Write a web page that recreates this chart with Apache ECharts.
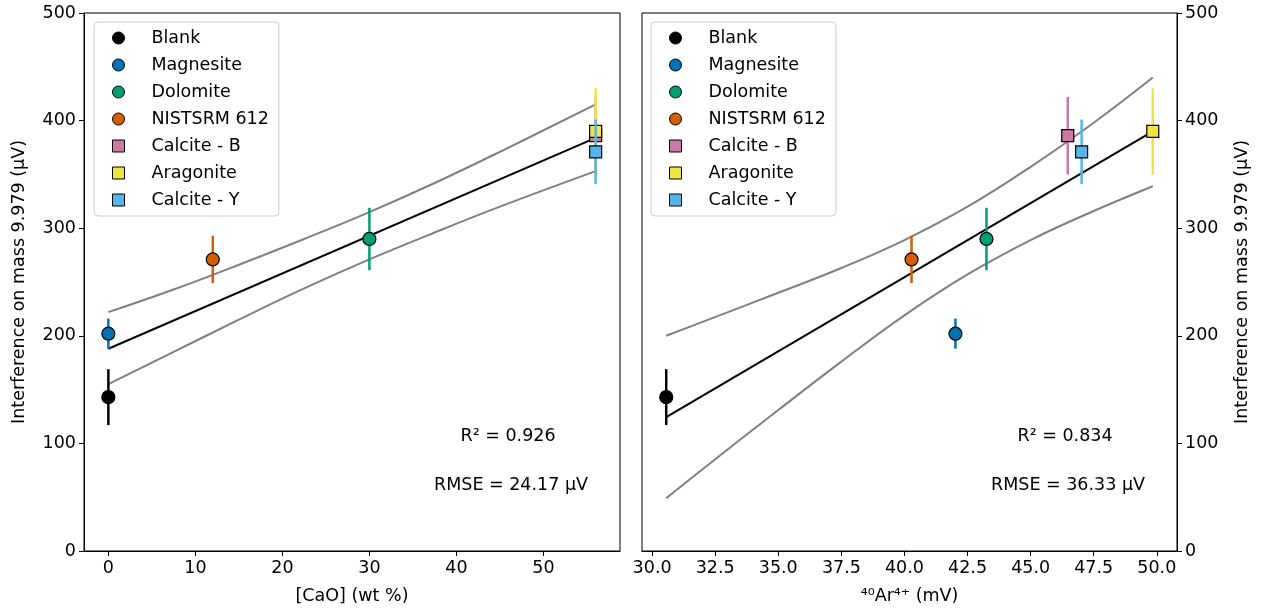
<!DOCTYPE html>
<html>
<head>
<meta charset="utf-8">
<script src="https://cdn.jsdelivr.net/npm/echarts@6/dist/echarts.min.js"></script>
<style>
html,body{margin:0;padding:0;background:#fff;}
#chart{width:1261px;height:614px;}
</style>
</head>
<body>
<div id="chart"></div>
<script>
// ---- data ----
const categories = ['Blank', 'Magnesite', 'Dolomite', 'NISTSRM 612', 'Calcite - B', 'Aragonite', 'Calcite - Y'];
const colors = ['#000000', '#0072B2', '#009E73', '#D55E00', '#CC79A7', '#F0E442', '#56B4E9'];
const symbols = ['circle', 'circle', 'circle', 'circle', 'rect', 'rect', 'rect'];
const caoValues = [0, 0, 30, 12, 56, 56, 56];
const arValues = [30.56, 42.02, 43.25, 40.28, 46.47, 49.84, 47.02];
const interference = [143, 202, 290, 271, 386, 390, 371];
const interferenceErr = [26, 14, 29, 22, 36, 40, 30];

const leftFitX = [0, 56];
const leftFitY = [188, 384];
const leftBandX = [0, 7.5, 15, 22.5, 30, 37.5, 45, 56];
const leftBandUpper = [222, 243, 266, 290, 315, 342, 371, 415];
const leftBandLower = [155, 185, 215, 244, 271, 296, 320, 353];

const rightFitX = [30.56, 49.84];
const rightFitY = [124.5, 390];
const rightBandX = [30.56, 32, 35, 37.5, 40, 42.5, 45, 47.5, 49.84];
const rightBandUpper = [200, 213, 240, 263, 289, 320, 357, 398, 440];
const rightBandLower = [49, 76, 131, 176, 219, 257, 289, 316, 339];

const caoTicks = [0, 10, 20, 30, 40, 50];
const arTicks = [30, 32.5, 35, 37.5, 40, 42.5, 45, 47.5, 50];

const r2Texts = ['R² = 0.926', 'R² = 0.834'];
const rmseTexts = ['RMSE = 24.17 µV', 'RMSE = 36.33 µV'];
const xNames = ['[CaO] (wt %)', '⁴⁰Ar⁴⁺ (mV)'];
const yName = 'Interference on mass 9.979 (µV)';

// ---- chart ----
const FONT = 'DejaVu Sans';
const FS = 17.5;
const SQUARE = 'path://M0,0L10,0L10,10L0,10Z';
const chart = echarts.init(document.getElementById('chart'), null, {renderer: 'canvas'});

function makeLegend(left) {
  return {
    left: left, top: 22, orient: 'vertical',
    padding: [7, 10, 7, 18],
    itemGap: 9, itemWidth: 12, itemHeight: 12,
    borderColor: '#cccccc', borderWidth: 1, borderRadius: 4,
    backgroundColor: 'rgba(255,255,255,0.85)',
    selectedMode: false,
    textStyle: {fontSize: FS, fontFamily: FONT, color: '#000', padding: [0, 0, 0, 22]},
    data: categories.map((c, i) => ({
      name: c, icon: symbols[i] === 'rect' ? SQUARE : 'circle',
      itemStyle: {color: colors[i], borderColor: '#000', borderWidth: 1}
    }))
  };
}

function xAxisDef(grid, min, max, ticks, name, fmt) {
  return {
    type: 'value', gridIndex: grid, min: min, max: max,
    name: name, nameLocation: 'middle', nameGap: 36,
    nameTextStyle: {fontSize: FS, fontFamily: FONT, color: '#000'},
    axisLine: {show: true, onZero: false, lineStyle: {color: '#000', width: 1}},
    axisTick: {show: true, length: 5, lineStyle: {color: '#000'}, customValues: ticks},
    axisLabel: {fontSize: FS, fontFamily: FONT, color: '#000', margin: 8, customValues: ticks, formatter: fmt},
    splitLine: {show: false}
  };
}
function yAxisDef(grid, pos) {
  return {
    type: 'value', gridIndex: grid, position: pos, min: 0, max: 500, interval: 100,
    name: yName, nameLocation: 'middle', nameRotate: 90, nameGap: 56,
    nameTextStyle: {fontSize: FS, fontFamily: FONT, color: '#000'},
    axisLine: {show: true, onZero: false, lineStyle: {color: '#000', width: 1}},
    axisTick: {show: true, length: 5, lineStyle: {color: '#000'}},
    axisLabel: {fontSize: FS, fontFamily: FONT, color: '#000', margin: 8},
    splitLine: {show: false}
  };
}

const series = [];
function addLine(grid, xs, ys, color, z) {
  series.push({
    type: 'line', xAxisIndex: grid, yAxisIndex: grid,
    data: xs.map((x, i) => [x, ys[i]]),
    showSymbol: false, smooth: 0.4, silent: true, z: z,
    lineStyle: {color: color, width: 2}
  });
}
addLine(0, leftBandX, leftBandUpper, '#808080', 2);
addLine(0, leftBandX, leftBandLower, '#808080', 2);
addLine(0, leftFitX, leftFitY, '#000000', 3);
addLine(1, rightBandX, rightBandUpper, '#808080', 2);
addLine(1, rightBandX, rightBandLower, '#808080', 2);
addLine(1, rightFitX, rightFitY, '#000000', 3);

[caoValues, arValues].forEach((xs, grid) => {
  categories.forEach((name, i) => {
    series.push({
      type: 'custom', name: name, xAxisIndex: grid, yAxisIndex: grid,
      z: 10 + 2 * i, silent: true,
      data: [[xs[i], interference[i] - interferenceErr[i], interference[i] + interferenceErr[i]]],
      renderItem: function (params, api) {
        const p1 = api.coord([api.value(0), api.value(1)]);
        const p2 = api.coord([api.value(0), api.value(2)]);
        return {type: 'line', shape: {x1: p1[0], y1: p1[1], x2: p2[0], y2: p2[1]},
                style: {stroke: colors[i], lineWidth: 2.5}};
      }
    });
    series.push({
      type: 'scatter', name: name, xAxisIndex: grid, yAxisIndex: grid,
      z: 11 + 2 * i, silent: true,
      symbol: symbols[i], symbolSize: symbols[i] === 'circle' ? 13 : 12,
      itemStyle: {color: colors[i], borderColor: '#000', borderWidth: 1.2, opacity: 1},
      data: [[xs[i], interference[i]]]
    });
  });
});

const textEl = (t, x, y) => ({
  type: 'text', x: x, y: y, silent: true,
  style: {text: t, font: FS + 'px "' + FONT + '"', fill: '#000', align: 'center', verticalAlign: 'middle'}
});

chart.setOption({
  animation: false,
  backgroundColor: '#fff',
  grid: [
    {left: 84, top: 13, width: 536, height: 538, show: true, borderColor: '#000', borderWidth: 1, containLabel: false},
    {left: 642, top: 13, width: 535, height: 538, show: true, borderColor: '#000', borderWidth: 1, containLabel: false}
  ],
  xAxis: [
    xAxisDef(0, -2.8, 58.8, caoTicks, xNames[0], v => String(v)),
    xAxisDef(1, 29.6, 50.8, arTicks, xNames[1], v => Number(v).toFixed(1))
  ],
  yAxis: [yAxisDef(0, 'left'), yAxisDef(1, 'right')],
  legend: [makeLegend(94), makeLegend(651)],
  graphic: [
    textEl(r2Texts[0], 508, 436),
    textEl(rmseTexts[0], 511, 485),
    textEl(r2Texts[1], 1065, 436),
    textEl(rmseTexts[1], 1068, 485)
  ],
  series: series
});
</script>
</body>
</html>
